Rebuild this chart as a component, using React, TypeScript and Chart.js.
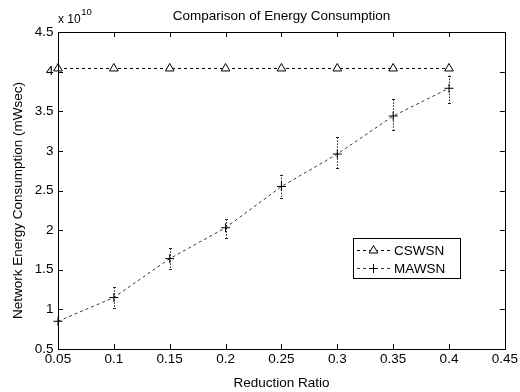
import React, { useEffect, useRef } from "react";
import { Chart, registerables } from "chart.js";

Chart.register(...registerables);

// Reduction ratio (x values)
const reductionRatio = [0.05, 0.1, 0.15, 0.2, 0.25, 0.3, 0.35, 0.4];
// Energy consumption in units of 1e10 mWsec
const cswsn = [4.04, 4.04, 4.04, 4.04, 4.04, 4.04, 4.04, 4.04];
const mawsn = [0.85, 1.15, 1.64, 2.03, 2.55, 2.96, 3.44, 3.79];
const mawsnLow = [0.85, 1.015, 1.51, 1.905, 2.4, 2.78, 3.26, 3.6];
const mawsnHigh = [0.85, 1.28, 1.77, 2.14, 2.7, 3.17, 3.65, 3.95];

const xTicks = [0.05, 0.1, 0.15, 0.2, 0.25, 0.3, 0.35, 0.4, 0.45];
const yTicks = [0.5, 1, 1.5, 2, 2.5, 3, 3.5, 4, 4.5];

const titleText = "Comparison of Energy Consumption";
const xLabel = "Reduction Ratio";
const yLabel = "Network Energy Consumption (mWsec)";
const seriesNames = ["CSWSN", "MAWSN"];
const exponent = "10";

const FONT = "'Liberation Sans', Arial, Helvetica, sans-serif";

const fmt = (v: number) => String(Number(v.toFixed(2)));

const decorPlugin = {
  id: "decor",
  beforeDatasetsDraw(chart: any) {
    const ctx = chart.ctx;
    const xs = chart.scales.x;
    const ys = chart.scales.y;
    ctx.save();
    ctx.strokeStyle = "#222";
    ctx.lineWidth = 1;
    ctx.setLineDash([1.5, 1.5]);
    for (let i = 0; i < reductionRatio.length; i++) {
      if (mawsnHigh[i] === mawsnLow[i]) continue;
      const px = Math.round(xs.getPixelForValue(reductionRatio[i])) + 0.5;
      const pt = ys.getPixelForValue(mawsnHigh[i]);
      const pb = ys.getPixelForValue(mawsnLow[i]);
      ctx.beginPath();
      ctx.moveTo(px, pt);
      ctx.lineTo(px, pb);
      ctx.stroke();
    }
    ctx.setLineDash([]);
    for (let i = 0; i < reductionRatio.length; i++) {
      if (mawsnHigh[i] === mawsnLow[i]) continue;
      const px = Math.round(xs.getPixelForValue(reductionRatio[i])) + 0.5;
      const pt = Math.round(ys.getPixelForValue(mawsnHigh[i])) + 0.5;
      const pb = Math.round(ys.getPixelForValue(mawsnLow[i])) + 0.5;
      ctx.beginPath();
      ctx.moveTo(px - 1.5, pt);
      ctx.lineTo(px + 1.5, pt);
      ctx.moveTo(px - 1.5, pb);
      ctx.lineTo(px + 1.5, pb);
      ctx.stroke();
    }
    ctx.restore();
  },
  afterDraw(chart: any) {
    const ctx = chart.ctx;
    const a = chart.chartArea;
    const xs = chart.scales.x;
    const ys = chart.scales.y;
    ctx.save();
    // frame
    ctx.strokeStyle = "#000";
    ctx.lineWidth = 1;
    ctx.strokeRect(Math.round(a.left) + 0.5, Math.round(a.top) + 0.5, Math.round(a.right - a.left), Math.round(a.bottom - a.top));
    // inner ticks
    const tl = 5;
    ctx.beginPath();
    for (const v of xTicks) {
      const px = Math.round(xs.getPixelForValue(v)) + 0.5;
      ctx.moveTo(px, a.bottom);
      ctx.lineTo(px, a.bottom - tl);
      ctx.moveTo(px, a.top);
      ctx.lineTo(px, a.top + tl);
    }
    for (const v of yTicks) {
      const py = Math.round(ys.getPixelForValue(v)) + 0.5;
      ctx.moveTo(a.left, py);
      ctx.lineTo(a.left + tl, py);
      ctx.moveTo(a.right, py);
      ctx.lineTo(a.right - tl, py);
    }
    ctx.stroke();

    ctx.fillStyle = "#000";
    // title
    ctx.font = `13.5px ${FONT}`;
    ctx.textAlign = "center";
    ctx.textBaseline = "alphabetic";
    ctx.fillText(titleText, (a.left + a.right) / 2, 20);
    // x label
    ctx.fillText(xLabel, (a.left + a.right) / 2, 387);
    // y label
    ctx.save();
    ctx.translate(22, (a.top + a.bottom) / 2 + 10);
    ctx.rotate(-Math.PI / 2);
    ctx.textBaseline = "alphabetic";
    ctx.fillText(yLabel, 0, 0);
    ctx.restore();
    // exponent
    ctx.textAlign = "left";
    ctx.font = `12px ${FONT}`;
    ctx.fillText("x 10", a.left, 23);
    const w = ctx.measureText("x 10").width;
    ctx.font = `9.5px ${FONT}`;
    ctx.fillText(exponent, a.left + w + 0.5, 15);

    // legend
    const lx = 353, ly = 238, lw = 107, lh = 40;
    ctx.fillStyle = "#fff";
    ctx.fillRect(lx, ly, lw, lh);
    ctx.strokeStyle = "#000";
    ctx.strokeRect(lx + 0.5, ly + 0.5, lw, lh);
    const rows = [250.5, 268.5];
    for (let r = 0; r < 2; r++) {
      const cy = rows[r];
      ctx.strokeStyle = r === 0 ? "#000" : "#333";
      ctx.setLineDash([3, 3]);
      ctx.beginPath();
      ctx.moveTo(357, cy);
      ctx.lineTo(390, cy);
      ctx.stroke();
      ctx.setLineDash([]);
      ctx.strokeStyle = "#000";
      const mx = 373.5;
      if (r === 0) {
        const rr = 5;
        ctx.fillStyle = "#fff";
        ctx.beginPath();
        ctx.moveTo(mx, cy - rr);
        ctx.lineTo(mx + rr * 0.866, cy + rr / 2);
        ctx.lineTo(mx - rr * 0.866, cy + rr / 2);
        ctx.closePath();
        ctx.fill();
        ctx.stroke();
      } else {
        ctx.beginPath();
        ctx.moveTo(mx - 4.5, cy);
        ctx.lineTo(mx + 4.5, cy);
        ctx.moveTo(mx, cy - 4.5);
        ctx.lineTo(mx, cy + 4.5);
        ctx.stroke();
      }
      ctx.fillStyle = "#000";
      ctx.font = `13.5px ${FONT}`;
      ctx.textAlign = "left";
      ctx.textBaseline = "middle";
      ctx.fillText(seriesNames[r], 394, cy + 0.5);
    }
    ctx.restore();
  },
};

export default function App() {
  const ref = useRef<HTMLCanvasElement | null>(null);
  useEffect(() => {
    if (!ref.current) return;
    const chart = new Chart(ref.current, {
      type: "line",
      data: {
        datasets: [
          {
            label: seriesNames[0],
            data: reductionRatio.map((x, i) => ({ x, y: cswsn[i] })),
            borderColor: "#000",
            borderWidth: 1,
            borderDash: [3, 3],
            pointStyle: "triangle",
            pointRadius: 5,
            pointBackgroundColor: "#fff",
            pointBorderColor: "#000",
            pointBorderWidth: 1,
            fill: false,
            tension: 0,
          },
          {
            label: seriesNames[1],
            data: reductionRatio.map((x, i) => ({ x, y: mawsn[i] })),
            borderColor: "#333",
            borderWidth: 1,
            borderDash: [3, 3],
            pointStyle: "cross",
            pointRadius: 4.5,
            pointBorderColor: "#000",
            pointBorderWidth: 1,
            fill: false,
            tension: 0,
          },
        ],
      },
      options: {
        responsive: false,
        animation: false,
        clip: false as any,
        layout: { padding: { top: 32, right: 12, left: 0, bottom: 0 } },
        plugins: {
          legend: { display: false },
          title: { display: false },
          tooltip: { enabled: false },
        },
        scales: {
          x: {
            type: "linear",
            min: 0.05,
            max: 0.45,
            afterBuildTicks: (s: any) => {
              s.ticks = xTicks.map((v) => ({ value: v }));
            },
            afterFit: (s: any) => {
              s.height = 43;
            },
            grid: { display: false, drawTicks: false },
            border: { display: false },
            ticks: {
              autoSkip: false,
              maxRotation: 0,
              padding: 2,
              color: "#000",
              font: { family: FONT, size: 13.5 },
              callback: (v: any) => fmt(Number(v)),
            },
          },
          y: {
            type: "linear",
            min: 0.5,
            max: 4.5,
            afterBuildTicks: (s: any) => {
              s.ticks = yTicks.map((v) => ({ value: v }));
            },
            afterFit: (s: any) => {
              s.width = 58;
            },
            grid: { display: false, drawTicks: false },
            border: { display: false },
            ticks: {
              autoSkip: false,
              padding: 4.5,
              color: "#000",
              font: { family: FONT, size: 13.5 },
              callback: (v: any) => fmt(Number(v)),
            },
          },
        },
      },
      plugins: [decorPlugin],
    });
    return () => chart.destroy();
  }, []);
  return (
    <div style={{ position: "fixed", left: 0, top: 0, width: 520, height: 392, background: "#fff" }}>
      <canvas ref={ref} width={520} height={392} style={{ width: 520, height: 392, display: "block" }} />
    </div>
  );
}
